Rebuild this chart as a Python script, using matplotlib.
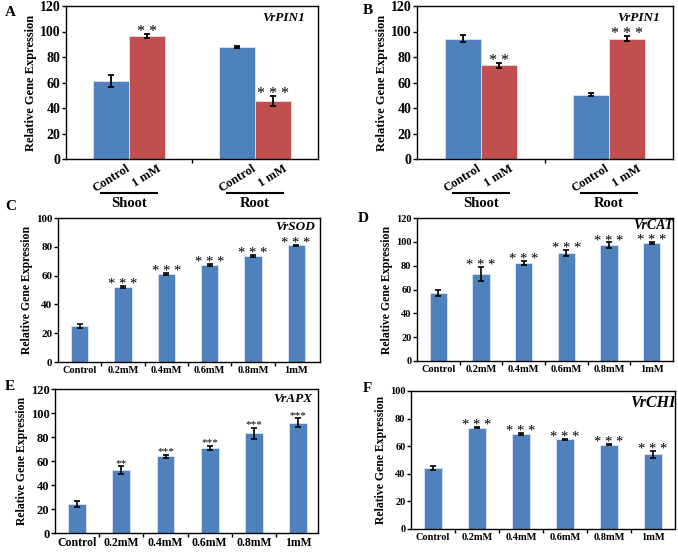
import numpy as np
import matplotlib
matplotlib.use('Agg')
import matplotlib.pyplot as plt

plt.rcParams['font.family'] = 'Liberation Serif'
plt.rcParams['font.weight'] = 'bold'

BLUE = '#4F81BD'
RED = '#C0504D'
EDGE = '#DCE6F2'

W, H = 678, 552

# panel A / B: VrPIN1, shoot and root
pin_groups = ['Shoot', 'Root']
pin_labels = ['Control', '1 mM']
pinA_ctrl = [61, 88]
pinA_ctrl_err = [4.5, 0.7]
pinA_trt = [96.5, 45.5]
pinA_trt_err = [1.5, 4]
pinA_stars = ['* *', '* * *']

pinB_ctrl = [94.5, 50.5]
pinB_ctrl_err = [2.5, 1]
pinB_trt = [73.5, 94.5]
pinB_trt_err = [2, 1.8]
pinB_stars = ['* *', '* * *']

# panels C-F: concentration series
conc = ['Control', '0.2mM', '0.4mM', '0.6mM', '0.8mM', '1mM']
sod = [25, 52, 61, 67.5, 73.5, 81]
sod_err = [1.2, 0.6, 0.7, 0.9, 0.8, 0.4]
sod_stars = ['', '* * *', '* * *', '* * *', '* * *', '* * *']
cat = [57, 73, 82.5, 90.5, 97, 99]
cat_err = [2.5, 6, 1.8, 2.5, 2.5, 1]
cat_stars = ['', '* * *', '* * *', '* * *', '* * *', '* * *']
apx = [24.5, 52.5, 64, 71, 83, 92]
apx_err = [2.5, 3, 1.3, 1.8, 4.5, 3.5]
apx_stars = ['', '**', '***', '***', '***', '***']
chi = [44, 73.5, 69, 65, 61.2, 54]
chi_err = [1.5, 0.6, 0.7, 0.4, 0.4, 2.6]
chi_stars = ['', '* * *', '* * *', '* * *', '* * *', '* * *']


def px_axes(fig, x0, y0, x1, y1):
    return fig.add_axes([x0 / W, 1 - y1 / H, (x1 - x0) / W, (y1 - y0) / H])


def put_stars(ax, xs, tops, stars, fs, off=-1.5):
    # baseline slightly under the cap, asterisk glyph sits high in the em box
    for xi, t, s in zip(xs, tops, stars):
        if s:
            ax.annotate(s, (xi, t), xytext=(0, off), textcoords='offset points',
                        ha='center', va='baseline', fontsize=fs, fontweight='normal')


def style_axes(ax, ymax, ystep, tick_fs, ylab_fs):
    ax.set_ylim(0, ymax)
    ax.set_yticks(np.arange(0, ymax + 1, ystep))
    for s in ax.spines.values():
        s.set_linewidth(1.0)
        s.set_color('black')
    ax.tick_params(axis='y', direction='out', length=3, width=1, labelsize=tick_fs, pad=1)
    ax.set_ylabel('Relative Gene Expression', fontsize=ylab_fs, fontweight='bold', labelpad=2)
    for t in ax.get_yticklabels():
        t.set_fontweight('bold')


def pin_panel(ax, ctrl, ctrl_err, trt, trt_err, stars, gene):
    x = np.arange(1, len(pin_groups) + 1)
    w = 0.285
    ax.bar(x - w / 2, ctrl, w, color=BLUE, edgecolor=EDGE, linewidth=0.6)
    ax.bar(x + w / 2, trt, w, color=RED, edgecolor='#F2DCDB', linewidth=0.6)
    ax.errorbar(x - w / 2, ctrl, yerr=ctrl_err, fmt='none', ecolor='black', elinewidth=1.3, capsize=2.5, capthick=1.3)
    ax.errorbar(x + w / 2, trt, yerr=trt_err, fmt='none', ecolor='black', elinewidth=1.3, capsize=2.5, capthick=1.3)
    put_stars(ax, x + w / 2, np.array(trt) + np.array(trt_err), stars, 11.5)
    ax.set_xlim(0.5, 2.5)
    ax.set_xticks([1.5])
    ax.set_xticklabels([])
    ax.tick_params(axis='x', direction='out', length=3, width=1)
    style_axes(ax, 120, 20, 10, 9)
    ax.text(0.95, 0.92, gene, transform=ax.transAxes, ha='right', va='center',
            fontsize=9.5, fontstyle='italic', fontweight='bold')
    for xi in x:
        ax.text(xi - w / 2, -2.5, pin_labels[0], rotation=32, ha='center', va='top', fontsize=9,
                clip_on=False)
        ax.text(xi + w / 2, -2.5, pin_labels[1], rotation=32, ha='center', va='top', fontsize=9,
                clip_on=False)


def conc_panel(ax, vals, errs, stars, gene, ymax, tick_fs, ytick_fs, star_fs, gene_fs,
               xmax=5.5, gene_x=0.98, gene_y=0.94, star_off=-1.5):
    x = np.arange(len(conc))
    ax.bar(x, vals, 0.4, color=BLUE, edgecolor=EDGE, linewidth=0.6)
    ax.errorbar(x, vals, yerr=errs, fmt='none', ecolor='black', elinewidth=1.2, capsize=2, capthick=1.2)
    put_stars(ax, x, np.array(vals) + np.array(errs), stars, star_fs, star_off)
    ax.set_xlim(-0.5, xmax)
    ax.set_xticks(x)
    ax.set_xticklabels(conc, fontsize=tick_fs, fontweight='bold')
    ax.set_xticks(x[:-1] + 0.5, minor=True)
    ax.tick_params(axis='x', which='major', length=0, pad=3)
    ax.tick_params(axis='x', which='minor', direction='out', length=3, width=1)
    style_axes(ax, ymax, 20, ytick_fs, 8.5)
    ax.text(gene_x, gene_y, gene, transform=ax.transAxes, ha='right', va='center',
            fontsize=gene_fs, fontstyle='italic', fontweight='bold')


fig = plt.figure(figsize=(W / 100, H / 100), dpi=100)

axA = px_axes(fig, 66, 6, 318, 159)
pin_panel(axA, pinA_ctrl, pinA_ctrl_err, pinA_trt, pinA_trt_err, pinA_stars, 'VrPIN1')
axB = px_axes(fig, 417, 6, 673, 159)
pin_panel(axB, pinB_ctrl, pinB_ctrl_err, pinB_trt, pinB_trt_err, pinB_stars, 'VrPIN1')

# group underlines and names below A and B
for ax in (axA, axB):
    for xi, name in zip([1, 2], pin_groups):
        ax.plot([xi - 0.22, xi + 0.22], [-27, -27], color='black', lw=1.5, clip_on=False)
        ax.text(xi, -30, name, ha='center', va='top', fontsize=10.5, fontweight='bold', clip_on=False)

axC = px_axes(fig, 58, 218, 320, 362)
conc_panel(axC, sod, sod_err, sod_stars, 'VrSOD', 100, 7.5, 8, 10.5, 9.5, xmax=5.55)
axD = px_axes(fig, 417, 218, 673, 361)
conc_panel(axD, cat, cat_err, cat_stars, 'VrCAT', 120, 7.5, 7.5, 10.5, 10, gene_x=1.0, gene_y=0.95)
axE = px_axes(fig, 55, 389, 318, 533)
conc_panel(axE, apx, apx_err, apx_stars, 'VrAPX', 120, 8.5, 9, 8, 9.5, xmax=5.45, gene_y=0.93,
           star_off=0.5)
axF = px_axes(fig, 411, 391, 675, 529)
conc_panel(axF, chi, chi_err, chi_stars, 'VrCHI', 100, 7.5, 7.5, 10.5, 11.5, gene_x=1.0, gene_y=0.91)

# panel letters
for lab, (px, py) in zip('ABCDEF', [(5, 12), (363, 10), (5, 206), (358, 219), (5, 386), (363, 389)]):
    fig.text(px / W, 1 - py / H, lab, ha='left', va='center', fontsize=11, fontweight='bold')

fig.savefig('out.png', dpi=100)
